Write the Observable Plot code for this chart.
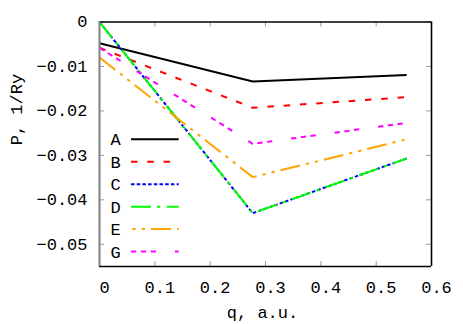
<!DOCTYPE html>
<html>
<head>
<meta charset="utf-8">
<script src="https://cdn.jsdelivr.net/npm/d3@7"></script>
<script src="https://cdn.jsdelivr.net/npm/@observablehq/plot@0.6"></script>
<style>
  html, body { margin: 0; padding: 0; background: #fff; }
  #chart { position: relative; width: 463px; height: 324px; }
  #chart svg { display: block; }
  #legend { position: absolute; left: 0; top: 0; pointer-events: none; }
</style>
</head>
<body>
<div id="chart"></div>
<script>
// ---- data ----
const q = [0, 0.277, 0.555];
const seriesNames = ["A", "B", "C", "D", "E", "G"];
const valuesA = [-0.0048, -0.0134, -0.0119];
const valuesB = [-0.0058, -0.0193, -0.0169];
const valuesC = [0, -0.0430, -0.0307];
const valuesD = [0, -0.0430, -0.0307];
const valuesE = [-0.0080, -0.0349, -0.0264];
const valuesG = [-0.0058, -0.0274, -0.0227];
const xTicks = [0, 0.1, 0.2, 0.3, 0.4, 0.5, 0.6];
const yTicks = [0, -0.01, -0.02, -0.03, -0.04, -0.05];
const xDomain = [0, 0.6];
const yDomain = [-0.055, 0];
const xLabel = "q, a.u.";
const yLabel = "P, 1/Ry";

// ---- styles ----
const colors = {A: "#000000", B: "#ff0000", C: "#0000ff", D: "#00ff00", E: "#ffa500", G: "#ff00ff"};
const dashes = {A: null, B: "6.5,9.8", C: "3.5,2.2", D: "20,6,3.3,6.5", E: "20,6,3.3,6,3.3,6", G: "5.3,4.5,5.3,4.5,5.3,19"};
const legendOffset = {A: 0, B: 0, C: 0, D: 0, E: 24.6, G: 0};

const allValues = {A: valuesA, B: valuesB, C: valuesC, D: valuesD, E: valuesE, G: valuesG};
const rows = seriesNames.flatMap(s => q.map((x, i) => ({series: s, q: x, p: allValues[s][i]})));

const font = "Liberation Mono, Courier New, monospace";
const W = 463, H = 324;
const mL = 99, mR = 32, mT = 21.5, mB = 58;
const frameW = W - mL - mR, frameH = H - mT - mB;
const tickLen = 5;

const fmt = d => d === 0 ? "0" : d3.format(".2~f")(d).replace("-", "\u2212");
const fmtX = d => d === 0 ? "0" : d3.format(".1f")(d);

const plot = Plot.plot({
  width: W, height: H,
  marginLeft: mL, marginRight: mR, marginTop: mT, marginBottom: mB,
  style: {fontFamily: font, fontSize: "17px", background: "#fff", color: "#000"},
  x: {domain: xDomain, label: null},
  y: {domain: yDomain, label: null},
  marks: [
    // ticks inward on all four sides
    Plot.tickX(xTicks, {x: d => d, insetTop: frameH - tickLen, stroke: "#999", strokeWidth: 1}),
    Plot.tickX(xTicks, {x: d => d, insetBottom: frameH - tickLen, stroke: "#999", strokeWidth: 1}),
    Plot.tickY(yTicks, {y: d => d, insetRight: frameW - tickLen, stroke: "#999", strokeWidth: 1}),
    Plot.tickY(yTicks, {y: d => d, insetLeft: frameW - tickLen, stroke: "#999", strokeWidth: 1}),
    // data lines
    ...seriesNames.map(s => Plot.line(rows.filter(r => r.series === s), {
      x: "q", y: "p", stroke: colors[s], strokeWidth: 2,
      strokeDasharray: dashes[s] || undefined, strokeLinecap: "butt", strokeLinejoin: "miter"
    })),
    // frame
    Plot.ruleY([yDomain[1]], {stroke: "#000", strokeWidth: 1.6}),
    Plot.ruleY([yDomain[0]], {stroke: "#000", strokeWidth: 1.6}),
    Plot.ruleX([xDomain[1]], {stroke: "#000", strokeWidth: 1.6}),
    Plot.ruleX([xDomain[0]], {stroke: "#888", strokeWidth: 2.2}),
    // axes labels
    Plot.axisX(xTicks, {tickSize: 0, tickPadding: 14, tickFormat: fmtX, dx: 5, fontSize: 17, label: null}),
    Plot.axisY(yTicks, {tickSize: 0, tickPadding: 12, tickFormat: fmt, fontSize: 17, label: null}),
    Plot.text([xLabel], {frameAnchor: "bottom", dy: 46, dx: -3, lineAnchor: "middle", fontSize: 17}),
    Plot.text([yLabel], {frameAnchor: "left", dx: -83, dy: 1, rotate: -90, lineAnchor: "middle", fontSize: 17})
  ]
});

const chart = document.getElementById("chart");
chart.appendChild(plot);

// ---- legend (overlay) ----
const leg = d3.select(chart).append("svg")
  .attr("id", "legend").attr("width", W).attr("height", H);
const legX = 115.5, legY0 = 139.3, legStep = 22.45, legL1 = 131, legL2 = 178.7;
seriesNames.forEach((s, i) => {
  const y = legY0 + i * legStep;
  leg.append("text")
    .attr("x", legX).attr("y", y).attr("dy", "0.35em")
    .attr("text-anchor", "middle")
    .style("font-family", font).style("font-size", "17px")
    .text(s);
  const ln = leg.append("line")
    .attr("x1", legL1).attr("x2", legL2).attr("y1", y).attr("y2", y)
    .attr("stroke", colors[s]).attr("stroke-width", 2).attr("stroke-linecap", "butt");
  if (dashes[s]) ln.attr("stroke-dasharray", dashes[s]).attr("stroke-dashoffset", legendOffset[s]);
});
</script>
</body>
</html>
